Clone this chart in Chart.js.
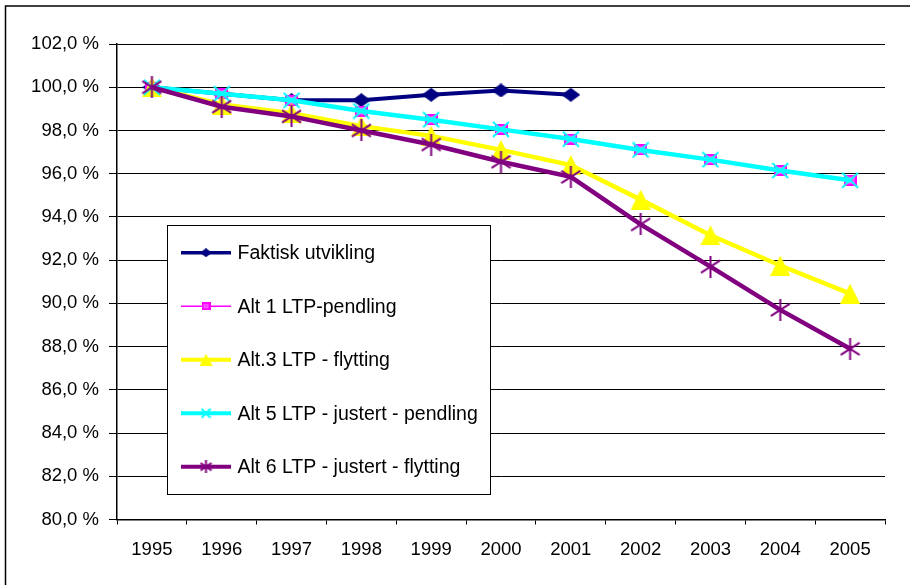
<!DOCTYPE html>
<html>
<head>
<meta charset="utf-8">
<script src="https://cdn.jsdelivr.net/npm/chart.js@4"></script>
<style>
  html, body { margin: 0; padding: 0; background: #fff; }
  #wrap { width: 910px; height: 585px; position: relative; }
</style>
</head>
<body>
<div id="wrap"><canvas id="c" width="910" height="585"></canvas></div>
<script>
// ---- data ----
const years = ['1995','1996','1997','1998','1999','2000','2001','2002','2003','2004','2005'];
const faktisk = [100.0, 99.7, 99.4, 99.4, 99.65, 99.85, 99.65, null, null, null, null];
const alt1 = [100.0, 99.7, 99.4, 98.9, 98.5, 98.05, 97.6, 97.1, 96.65, 96.15, 95.7];
const alt3 = [100.0, 99.2, 98.8, 98.2, 97.75, 97.1, 96.4, 94.8, 93.15, 91.75, 90.45];
const alt5 = [100.0, 99.7, 99.4, 98.9, 98.5, 98.05, 97.6, 97.1, 96.65, 96.15, 95.7];
const alt6 = [100.0, 99.1, 98.65, 98.0, 97.35, 96.55, 95.85, 93.65, 91.7, 89.7, 87.9];
const seriesNames = ['Faktisk utvikling', 'Alt 1 LTP-pendling', 'Alt.3 LTP - flytting', 'Alt 5 LTP - justert - pendling', 'Alt 6 LTP - justert - flytting'];
const yTickValues = [80, 82, 84, 86, 88, 90, 92, 94, 96, 98, 100, 102];
const yTickLabels = ['80,0 %','82,0 %','84,0 %','86,0 %','88,0 %','90,0 %','92,0 %','94,0 %','96,0 %','98,0 %','100,0 %','102,0 %'];

// ---- marker images ----
function makeMarker(type, w, h, color, stroke) {
  const c = document.createElement('canvas');
  c.width = w; c.height = h;
  const g = c.getContext('2d');
  g.fillStyle = color; g.strokeStyle = stroke || color;
  if (type === 'diamond') {
    g.beginPath(); g.moveTo(w/2, 0); g.lineTo(w, h/2); g.lineTo(w/2, h); g.lineTo(0, h/2); g.closePath(); g.fill();
  } else if (type === 'square') {
    g.fillStyle = stroke; g.fillRect(0, 0, w, h);
    g.fillStyle = color; g.fillRect(2, 2, w-4, h-4);
    g.fillStyle = stroke; g.fillRect(3, h/2-0.5, w-6, 1);
  } else if (type === 'triangle') {
    g.beginPath(); g.moveTo(w/2, 0); g.lineTo(w, h); g.lineTo(0, h); g.closePath(); g.fill();
  } else if (type === 'x') {
    g.lineWidth = 2;
    g.beginPath(); g.moveTo(1, 1); g.lineTo(w-1, h-1); g.moveTo(w-1, 1); g.lineTo(1, h-1); g.stroke();
  } else if (type === 'star') {
    g.lineWidth = 2;
    g.beginPath(); g.moveTo(w/2, 0); g.lineTo(w/2, h);
    g.moveTo(1, h*0.22); g.lineTo(w-1, h*0.78);
    g.moveTo(w-1, h*0.22); g.lineTo(1, h*0.78); g.stroke();
  }
  return c;
}

const navy = '#000080', magenta = '#FF00FF', yellow = '#FFFF00', cyan = '#00FFFF', purple = '#800080';

const mk = {
  diamond: makeMarker('diamond', 19, 14, navy),
  square: makeMarker('square', 13, 11, '#FF66FF', magenta),
  triangle: makeMarker('triangle', 20, 20, yellow),
  x: makeMarker('x', 18, 17, cyan),
  star: makeMarker('star', 21, 22, purple)
};
const lg = {
  diamond: makeMarker('diamond', 12, 9, navy),
  square: makeMarker('square', 9, 8, '#FF66FF', magenta),
  triangle: makeMarker('triangle', 13, 12, yellow),
  x: makeMarker('x', 11, 11, cyan),
  star: makeMarker('star', 13, 13, purple)
};

const datasets = [
  { label: seriesNames[0], data: faktisk, borderColor: navy, borderWidth: 4, pointStyle: mk.diamond, legendMarker: lg.diamond, legendLW: 3.5, order: 5 },
  { label: seriesNames[1], data: alt1, borderColor: magenta, borderWidth: 1.5, pointStyle: mk.square, legendMarker: lg.square, legendLW: 1.5, order: 4 },
  { label: seriesNames[2], data: alt3, borderColor: yellow, borderWidth: 4.5, pointStyle: mk.triangle, legendMarker: lg.triangle, legendLW: 4, order: 3 },
  { label: seriesNames[3], data: alt5, borderColor: cyan, borderWidth: 4.5, pointStyle: mk.x, legendMarker: lg.x, legendLW: 4, order: 2 },
  { label: seriesNames[4], data: alt6, borderColor: purple, borderWidth: 4.5, pointStyle: mk.star, legendMarker: lg.star, legendLW: 4, order: 1 }
].map(d => Object.assign(d, {
  backgroundColor: d.borderColor, tension: 0, spanGaps: false, pointRadius: 8, pointHoverRadius: 8, fill: false
}));

const FONT = '"Liberation Sans", Arial, sans-serif';

const framePlugin = {
  id: 'frame',
  beforeDraw(chart) {
    const ctx = chart.ctx;
    ctx.save();
    ctx.fillStyle = '#fff';
    ctx.fillRect(0, 0, chart.width, chart.height);
    ctx.strokeStyle = '#000';
    ctx.lineWidth = 1.5;
    ctx.beginPath();
    ctx.moveTo(5.5, chart.height + 5);
    ctx.lineTo(5.5, 6);
    ctx.lineTo(chart.width + 5, 6);
    ctx.stroke();
    ctx.restore();
  }
};

const legendPlugin = {
  id: 'boxLegend',
  afterDraw(chart) {
    const ctx = chart.ctx;
    ctx.save();
    const bx = 167.5, by = 225.5, bw = 323, bh = 269;
    ctx.fillStyle = '#fff';
    ctx.fillRect(bx, by, bw, bh);
    ctx.strokeStyle = '#000';
    ctx.lineWidth = 1;
    ctx.strokeRect(bx, by, bw, bh);
    chart.data.datasets.forEach((ds, i) => {
      const y = 252.7 + i * 53.5;
      ctx.strokeStyle = ds.borderColor;
      ctx.lineWidth = ds.legendLW;
      ctx.beginPath();
      ctx.moveTo(181, y); ctx.lineTo(231, y);
      ctx.stroke();
      const m = ds.legendMarker;
      ctx.drawImage(m, 206 - m.width / 2, y - m.height / 2);
      ctx.fillStyle = '#000';
      ctx.font = '19.5px ' + FONT;
      ctx.textBaseline = 'middle';
      ctx.textAlign = 'left';
      ctx.fillText(ds.label, 237.5, y + 1);
    });
    ctx.restore();
  }
};

new Chart(document.getElementById('c'), {
  type: 'line',
  data: { labels: years, datasets },
  plugins: [framePlugin, legendPlugin],
  options: {
    responsive: false,
    animation: false,
    devicePixelRatio: 1,
    layout: { padding: { left: 0, top: 44, right: 25, bottom: 0 } },
    plugins: { legend: { display: false }, tooltip: { enabled: false } },
    scales: {
      x: {
        type: 'category',
        offset: true,
        grid: { offset: true, drawOnChartArea: false, drawTicks: true, tickLength: 5, color: '#000', lineWidth: 1 },
        border: { color: '#000', width: 1.5 },
        ticks: { color: '#000', font: { family: FONT, size: 18.5 }, padding: 14, maxRotation: 0, autoSkip: false },
        afterFit(axis) { axis.height = 65.5; }
      },
      y: {
        min: 80, max: 102,
        afterBuildTicks(axis) { axis.ticks = yTickValues.map(v => ({ value: v })); },
        grid: { color: '#000', lineWidth: 1, drawTicks: true, tickLength: 8 },
        border: { color: '#000', width: 1.5 },
        ticks: {
          color: '#000', font: { family: FONT, size: 18.5 }, padding: 10,
          callback(v) { const i = yTickValues.indexOf(v); return i >= 0 ? yTickLabels[i] : ''; }
        },
        afterFit(axis) { axis.width = 117; }
      }
    }
  }
});
</script>
</body>
</html>
